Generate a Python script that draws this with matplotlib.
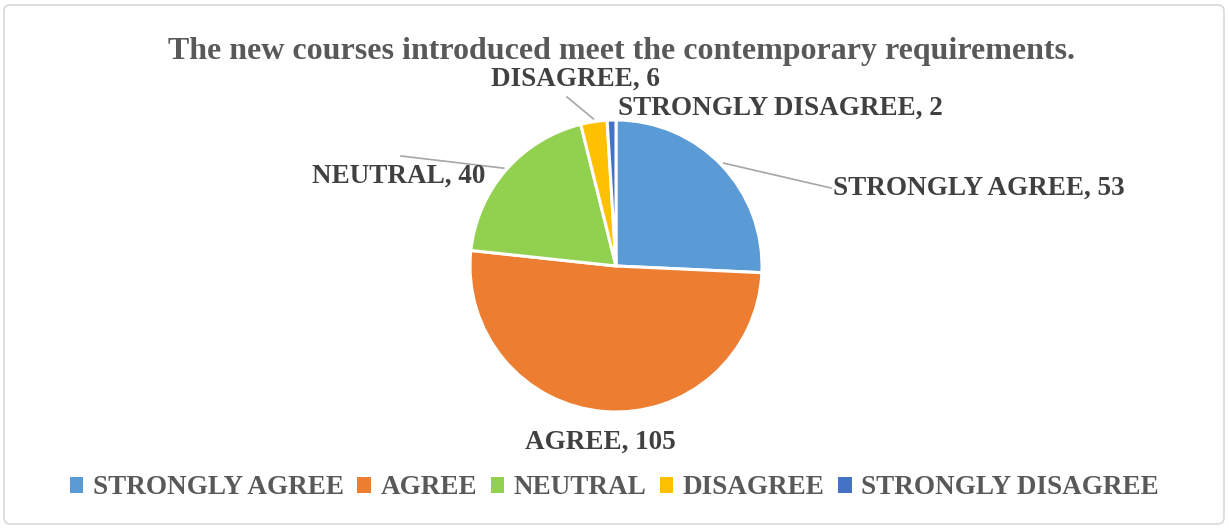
import numpy as np
import matplotlib
matplotlib.use("Agg")
import matplotlib.pyplot as plt
from matplotlib.patches import FancyBboxPatch, Patch

categories = ["STRONGLY AGREE", "AGREE", "NEUTRAL", "DISAGREE", "STRONGLY DISAGREE"]
values = [53, 105, 40, 6, 2]
colors = ["#5B9BD5", "#ED7D31", "#92D050", "#FFC000", "#4472C4"]
title = "The new courses introduced meet the contemporary requirements."

plt.rcParams["font.family"] = ["Liberation Serif", "DejaVu Serif"]

W, H = 1229, 528
fig = plt.figure(figsize=(W / 100, H / 100), dpi=100)
ax = fig.add_axes([0, 0, 1, 1])

# outer frame
fig.patches.append(FancyBboxPatch((4, 4), W - 9, H - 9, boxstyle="round,pad=0,rounding_size=6",
                                  transform=None, fill=False, edgecolor="#D9D9D9", linewidth=1.2))

cx, cy, r = 616, H - 266, 146
ax.pie(values, colors=colors, startangle=90, counterclock=False, center=(cx, cy), radius=r,
       wedgeprops=dict(edgecolor="white", linewidth=2.2), frame=True)
ax.set_xlim(0, W)
ax.set_ylim(0, H)
ax.set_aspect("equal")
ax.axis("off")

ax.text(W / 2 + 7, H - 51, title, ha="center", va="center", fontsize=23, fontweight="bold",
        color="#595959")

# labels: (x, y, ha) in pixel space, leader end point or None
label_pos = [
    (833, H - 188, "left", (831, H - 188)),
    (600, H - 442, "center", None),
    (485, H - 176, "right", (401, H - 156)),
    (575, H - 79, "center", (567, H - 97)),
    (618, H - 108, "left", None),
]
total = sum(values)
cum = np.cumsum([0] + values)
for i, (cat, v) in enumerate(zip(categories, values)):
    x, y, ha, end = label_pos[i]
    ax.text(x, y, f"{cat}, {v}", ha=ha, va="center", fontsize=19.5, fontweight="bold",
            color="#404040")
    if end is not None:
        mid = (cum[i] + v / 2) / total * 360
        ang = np.deg2rad(90 - mid)
        sx, sy = cx + r * 1.02 * np.cos(ang), cy + r * 1.02 * np.sin(ang)
        ax.plot([sx, end[0]], [sy, end[1]], color="#A6A6A6", linewidth=1.2)

handles = [Patch(facecolor=c, edgecolor="none") for c in colors]
leg = fig.legend(handles, categories, loc="center", bbox_to_anchor=(0.5, 1 - 488 / H), ncol=5,
                 frameon=False, fontsize=19.5, handlelength=0.5, handleheight=0.5,
                 handletextpad=0.35, columnspacing=0.5)
for t in leg.get_texts():
    t.set_color("#595959")
    t.set_fontweight("bold")

fig.savefig("out.png", dpi=100, facecolor="white")
